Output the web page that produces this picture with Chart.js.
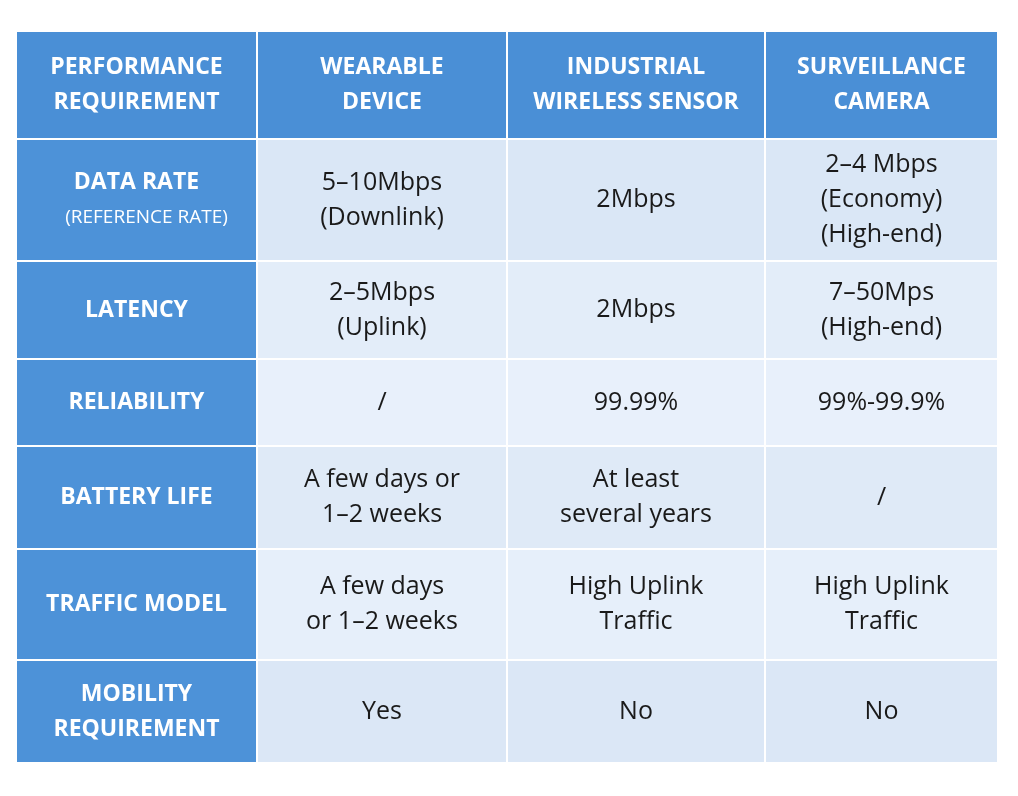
<!DOCTYPE html>
<html>
<head>
<meta charset="utf-8">
<script src="https://cdn.jsdelivr.net/npm/chart.js@4"></script>
<style>
  html, body { margin: 0; background: #fff; }
  #wrap { width: 1018px; height: 796px; }
</style>
</head>
<body>
<div id="wrap"><canvas id="c"></canvas></div>
<script>
const headers = ['PERFORMANCE\nREQUIREMENT', 'WEARABLE\nDEVICE', 'INDUSTRIAL\nWIRELESS SENSOR', 'SURVEILLANCE\nCAMERA'];
const rowLabels = ['DATA RATE', 'LATENCY', 'RELIABILITY', 'BATTERY LIFE', 'TRAFFIC MODEL', 'MOBILITY\nREQUIREMENT'];
const wearable = ['5–10Mbps\n(Downlink)', '2–5Mbps\n(Uplink)', '/', 'A few days or\n1–2 weeks', 'A few days\nor 1–2 weeks', 'Yes'];
const sensor = ['2Mbps', '2Mbps', '99.99%', 'At least\nseveral years', 'High Uplink\nTraffic', 'No'];
const camera = ['2–4 Mbps\n(Economy)\n(High-end)', '7–50Mps\n(High-end)', '99%-99.9%', '/', 'High Uplink\nTraffic', 'No'];

// layout: column and row edges in page units
const colEdges = [16, 257, 507, 765, 998];
const rowEdges = [31, 139, 261, 359, 446, 549, 660, 763];
const rowFill = ['#dae7f6', '#e3edf9', '#e8f0fb', '#dfeaf7', '#e6effa', '#dbe7f6'];

const cells = [];
headers.forEach((h, c) => cells.push({ c, r: 0, text: h, fill: '#4a8fd6', color: '#fff', font: 'bold 23px "Open Sans"' }));
rowLabels.forEach((t, i) => {
  cells.push({ c: 0, r: i + 1, text: t, fill: '#4d92d8', color: '#fff', font: 'bold 23px "Open Sans"', sub: i === 0 ? '(REFERENCE RATE)' : null });
  [wearable, sensor, camera].forEach((col, k) =>
    cells.push({ c: k + 1, r: i + 1, text: col[i], fill: rowFill[i], color: '#1a1a1a', font: '25px "Open Sans"' }));
});

const tablePlugin = {
  id: 'table',
  afterDatasetsDraw(chart) {
    const { ctx, scales: { x, y } } = chart;
    ctx.save();
    cells.forEach(cell => {
      const x0 = x.getPixelForValue(colEdges[cell.c]) + 1, x1 = x.getPixelForValue(colEdges[cell.c + 1]) - 1;
      const y0 = y.getPixelForValue(rowEdges[cell.r]) + 1, y1 = y.getPixelForValue(rowEdges[cell.r + 1]) - 1;
      ctx.fillStyle = cell.fill;
      ctx.fillRect(x0, y0, x1 - x0, y1 - y0);
      const lines = cell.text.split('\n');
      const lh = 35;
      const all = cell.sub ? lines.length + 1 : lines.length;
      let ty = (y0 + y1) / 2 - (all - 1) * lh / 2;
      ctx.fillStyle = cell.color;
      ctx.textAlign = 'center';
      ctx.textBaseline = 'middle';
      ctx.font = cell.font;
      lines.forEach(l => { ctx.fillText(l, (x0 + x1) / 2, ty); ty += lh; });
      if (cell.sub) {
        ctx.font = '19px "Open Sans"';
        ctx.fillText(cell.sub, (x0 + x1) / 2 + 10, ty);
      }
    });
    ctx.restore();
  }
};

new Chart(document.getElementById('c'), {
  type: 'scatter',
  data: { datasets: [{ data: [] }] },
  options: {
    responsive: true,
    maintainAspectRatio: false,
    animation: false,
    layout: { padding: 0 },
    plugins: { legend: { display: false }, tooltip: { enabled: false } },
    scales: {
      x: { type: 'linear', min: 0, max: 1018, display: false },
      y: { type: 'linear', min: 0, max: 796, reverse: true, display: false }
    }
  },
  plugins: [tablePlugin]
});
</script>
</body>
</html>
